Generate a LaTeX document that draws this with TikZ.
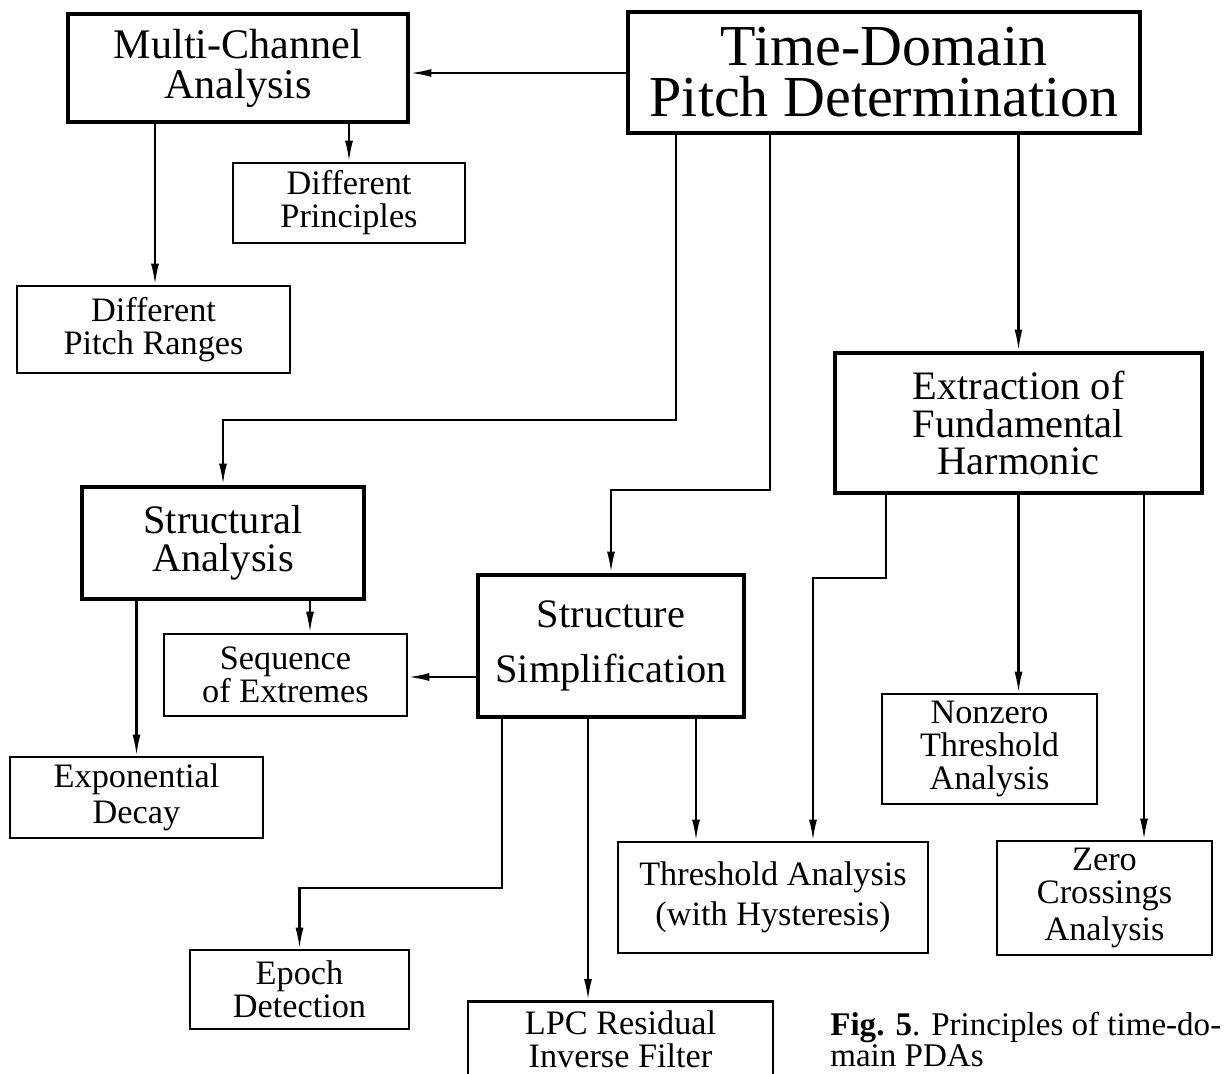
\documentclass[tikz,border=0pt]{standalone}
\usepackage{fontspec}
\setmainfont{Liberation Serif}
\usetikzlibrary{arrows.meta}
\begin{document}
\begin{tikzpicture}[
  bigbox/.style={draw, line width=2.8pt, inner sep=0pt, align=center},
  smallbox/.style={draw, line width=1.5pt, inner sep=0pt, align=center, font=\fontsize{19.5}{18.8}\selectfont},
  arr/.style={line width=1.2pt, -{Latex[length=0.42cm,width=0.16cm]}}]
  \useasboundingbox (0,0) rectangle (24.48,-21.48);
  \node[bigbox, minimum width=10.24cm, minimum height=2.42cm, font=\fontsize{33}{29}\selectfont] (td) at (17.68,-1.45) {Time-Domain\\Pitch Determination};
  \node[bigbox, minimum width=6.8cm, minimum height=2.16cm, font=\fontsize{24}{22.7}\selectfont] (mc) at (4.76,-1.36) {Multi-Channel\\Analysis};
  \node[smallbox, minimum width=4.64cm, minimum height=1.6cm] (dp) at (6.98,-4.06) {Different\\Principles};
  \node[smallbox, minimum width=5.46cm, minimum height=1.74cm] (dpr) at (3.07,-6.59) {Different\\Pitch Ranges};
  \node[bigbox, minimum width=7.34cm, minimum height=2.8cm, font=\fontsize{23}{21.5}\selectfont] (ef) at (20.37,-8.46) {Extraction of\\Fundamental\\Harmonic};
  \node[bigbox, minimum width=5.64cm, minimum height=2.24cm, font=\fontsize{23}{21.5}\selectfont] (sa) at (4.46,-10.86) {Structural\\Analysis};
  \node[bigbox, minimum width=5.32cm, minimum height=2.84cm, font=\fontsize{23}{31}\selectfont] (ss) at (12.22,-12.92) {Structure\\Simplification};
  \node[smallbox, minimum width=4.86cm, minimum height=1.64cm] (se) at (5.71,-13.5) {Sequence\\of Extremes};
  \node[smallbox, minimum width=5.06cm, minimum height=1.62cm] (ed) at (2.73,-15.95) {Exponential\\[2pt]Decay};
  \node[smallbox, minimum width=4.3cm, minimum height=2.2cm] (nt) at (19.79,-14.98) {Nonzero\\Threshold\\Analysis};
  \node[smallbox, minimum width=6.2cm, minimum height=2.22cm] (ta) at (15.46,-17.95) {Threshold Analysis\\[4pt](with Hysteresis)};
  \node[smallbox, minimum width=4.3cm, minimum height=2.28cm] (zc) at (22.09,-17.96) {Zero\\Crossings\\[2pt]Analysis};
  \node[smallbox, minimum width=4.38cm, minimum height=1.58cm] (ep) at (5.99,-19.79) {Epoch\\Detection};
  \node[smallbox, minimum width=6.1cm, minimum height=1.52cm, anchor=north] (lpc) at (12.41,-20.0) {LPC Residual\\Inverse Filter};
  \node[anchor=north west, inner sep=0pt, align=left, font=\fontsize{18.8}{15}\selectfont] (cap) at (16.6,-20.24) {\textbf{Fig. 5}. Principles of time-do-\\main PDAs};
  \draw[arr] (td.west |- 0,-1.46) -- (mc.east |- 0,-1.46);
  \draw[arr] (dp.north |- mc.south) -- (dp.north);
  \draw[arr] (mc.south -| 3.1,0) -- (dpr.north -| 3.1,0);
  \draw[arr] (td.south -| 13.52,0) -- (13.52,-8.4) -| (sa.north);
  \draw[arr] (td.south -| 15.4,0) -- (15.4,-9.8) -| (ss.north);
  \draw[arr] (ef.north |- td.south) -- (ef.north);
  \draw[arr] (sa.south -| 6.2,0) -- (se.north -| 6.2,0);
  \draw[arr] (ed.north |- sa.south) -- (ed.north);
  \draw[arr] (ss.west |- 0,-13.54) -- (se.east |- 0,-13.54);
  \draw[arr] (ss.south -| 10.04,0) -- (10.04,-17.76) -| (ep.north);
  \draw[arr] (ss.south -| 11.76,0) -- (lpc.north -| 11.76,0);
  \draw[arr] (ss.south -| 13.92,0) -- (ta.north -| 13.92,0);
  \draw[arr] (ef.south -| 17.72,0) -- (17.72,-11.56) -| (16.26,0 |- ta.north);
  \draw[arr] (ef.south) -- (nt.north -| ef.south);
  \draw[arr] (ef.south -| 22.88,0) -- (zc.north -| 22.88,0);
\end{tikzpicture}
\end{document}
